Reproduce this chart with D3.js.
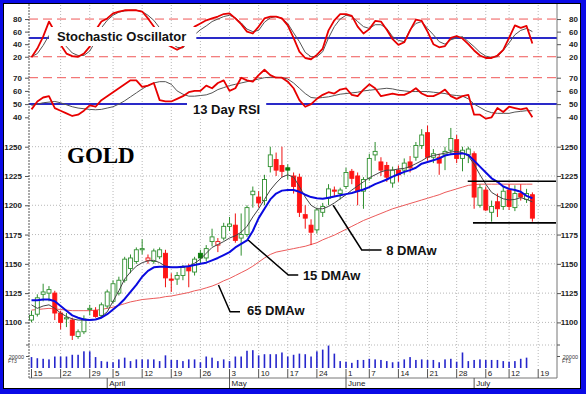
<!DOCTYPE html>
<html>
<head>
<meta charset="utf-8">
<script src="https://cdn.jsdelivr.net/npm/d3@7"></script>
<style>
  body { margin: 0; background: #fff; }
  svg text { font-family: "Liberation Sans", Arial, sans-serif; }
</style>
</head>
<body>
<div class="chart"></div>
<script>
// trading days Mar 15 - Jul 16 2010, index 0..86
var weekTicks = [0, 5, 10, 14, 19, 24, 29, 34, 39, 44, 49, 54, 58, 63, 68, 73, 78, 82, 87];
var weekLabels = ["15", "22", "29", "5", "12", "19", "26", "3", "10", "17", "24", "1", "7", "14", "21", "28", "6", "12", "19"];
var monthStarts = [13, 34, 54, 76];
var monthLabels = ["April", "May", "June", "July"];

var priceTicks = [1100, 1125, 1150, 1175, 1200, 1225, 1250];
var stochTicks = [20, 40, 60, 80];
var rsiTicks = [40, 50, 60, 70];

var open = [1102,1107,1124,1125,1125,1108,1103,1102,1088,1092,
  1111,1110,1106,1114,1118,1125,1136,1146,1152,1162,
  1153,1152,1156,1159,1137,1137,1140,1147,1143,1159,
  1155,1169,1166,1172,1182,1183,1172,1175,1209,1207,
  1204,1233,1239,1234,1232,1225,1224,1192,1183,1179,
  1194,1206,1213,1210,1216,1229,1225,1212,1223,1243,
  1237,1234,1219,1230,1230,1237,1241,1251,1262,1241,
  1241,1243,1247,1256,1240,1243,1244,1200,1213,1194,
  1203,1199,1213,1198,1210,1205,1209];
var high = [1110,1124,1133,1131,1127,1110,1108,1104,1094,1106,
  1115,1113,1117,1128,1136,1139,1156,1158,1164,1171,
  1158,1163,1164,1162,1142,1143,1149,1150,1156,1162,
  1166,1180,1172,1185,1190,1193,1193,1200,1216,1212,
  1226,1250,1245,1250,1235,1228,1227,1200,1188,1198,
  1202,1218,1216,1215,1232,1231,1228,1224,1244,1254,
  1241,1237,1233,1234,1240,1242,1254,1265,1268,1248,
  1244,1250,1266,1260,1250,1250,1246,1218,1216,1204,
  1210,1216,1218,1217,1218,1214,1211];
var low = [1100,1105,1118,1118,1102,1094,1096,1085,1086,1090,
  1106,1104,1104,1112,1116,1123,1134,1142,1150,1158,
  1150,1150,1154,1130,1126,1132,1136,1130,1140,1150,
  1152,1165,1160,1170,1178,1168,1157,1173,1198,1198,
  1200,1228,1225,1224,1222,1210,1190,1180,1166,1176,
  1190,1200,1208,1205,1214,1218,1200,1197,1221,1238,
  1225,1220,1215,1220,1226,1228,1238,1248,1238,1236,
  1226,1230,1244,1236,1229,1236,1197,1198,1195,1186,
  1190,1196,1196,1195,1204,1202,1186];
var close = [1106,1121,1126,1128,1108,1100,1104,1089,1092,1103,
  1112,1105,1115,1126,1133,1136,1154,1155,1162,1163,
  1155,1161,1162,1138,1136,1140,1147,1144,1154,1155,
  1163,1173,1169,1182,1184,1170,1175,1198,1212,1202,
  1222,1243,1230,1229,1230,1216,1194,1189,1177,1196,
  1199,1214,1212,1213,1228,1223,1212,1222,1240,1246,
  1230,1224,1230,1226,1236,1232,1251,1260,1241,1244,
  1236,1246,1257,1240,1247,1248,1207,1215,1196,1199,
  1197,1212,1199,1210,1207,1210,1189];

// moving averages
var dma8 = [1115,1112,1114,1115,1112,1108,1105,1103,1102,1102,
  1102,1102.5,1105,1109,1118,1127,1137,1143,1148,1151,
  1152.5,1153,1151,1148,1147,1147,1147.5,1148,1150.5,1154,
  1159,1164,1166.5,1169,1172,1174,1177,1182,1190,1197,
  1205,1213,1219,1224,1226,1224,1216,1207,1200,1197,
  1197,1199,1202,1205.5,1209,1213,1216.5,1220,1223.5,1226,
  1228.5,1230,1230,1231,1231.5,1233,1235.5,1238,1241,1242.5,
  1243.5,1244.5,1245.5,1246,1245,1242,1235,1226,1218,1211,
  1208,1205.5,1204.5,1205,1206.5,1205,1203];
var dma15 = [1119,1119,1119.5,1119.5,1118,1114,1110,1106,1104,1102.5,
  1102,1102.5,1104,1107,1111,1115,1120,1126,1132,1139,
  1144,1147,1147.5,1147.5,1147,1147,1147.5,1148,1149,1150,
  1151,1153,1155,1157.5,1160,1164,1167,1170,1178,1189,
  1197,1205,1210,1212.5,1213,1213,1211.5,1209,1207,1206,
  1205.5,1206.5,1207.5,1208.5,1209.5,1210.5,1212,1213.5,1215.5,1218,
  1220,1222,1224.5,1226.5,1228.5,1230,1232,1235.5,1237,1238.5,
  1240,1242.5,1243.5,1244,1244.3,1243,1238,1233,1228,1223,
  1220,1216,1214,1213,1211.5,1208,1206];
var dma65 = [1110.5,1111,1111.5,1112,1111.5,1111,1110.5,1110,1110,1110,
  1110,1110.5,1111,1112,1113,1114.5,1116,1117.5,1118.5,1119.5,
  1120,1120.5,1121,1122,1122.5,1123.5,1124.5,1125.5,1127,1128,
  1129.5,1131,1133,1135.5,1137.5,1140,1142.5,1145,1148,1151.5,
  1155,1158,1160,1161,1162,1163,1164,1165,1166.5,1168,
  1170.5,1172.5,1174.5,1177,1179.5,1182,1184.5,1187,1189,1191,
  1193,1195,1197,1198.5,1200,1201.5,1203,1204.5,1206,1207.5,
  1209,1211,1212.5,1214,1215.5,1217,1217.5,1218,1218,1218,
  1218,1218,1218,1218,1218,1218,1218];

// stochastic %K and %D
var stochK = [19,33,52,76,60,39,25,21,20,25,
  36,62,76,81,89,92,94,94,94,92,
  81,68,55,41,36,31,36,55,68,73,
  78,81,84,88,89,81,72,60,57,68,
  81,84,84,81,70,50,28,18,16,23,
  33,62,78,88,88,85,68,57,64,77,
  76,63,48,39,43,62,79,77,60,40,
  35,37,50,53,49,40,30,22,18,18,
  22,31,50,70,66,69,41];
var stochD = [20,25,38,54,60,50,36,26,22,22,
  29,45,66,78,86,91,93,94,94,92,
  86,78,66,52,42,35,34,45,55,63,
  69,76,80,84,86,82,74,64,60,62,
  75,82,84,81,73,58,44,27,20,20,
  28,50,68,80,86,84,76,68,65,71,
  71,65,52,46,44,63,73,76,65,55,
  44,40,47,50,52,44,36,27,21,19,
  20,30,42,55,62,65,60];

// 13 day RSI and its average
var rsi = [46,52,55,56,47,45,43,41,42,45,
  49,48,53,56,59,62,65,68,68,63,
  64,66,53,52,52,54,56,59,60,60,
  64,62,66,68,60,62,70,68,67,72,
  76,72,70,70,67,62,53,48,50,54,
  57,59,58,61,62,57,56,61,65,62,
  56,57,58,57,57,59,62,58,56,56,
  58,61,56,54,56,57,42,42,39,40,
  47,44,48,47,46,47,40];
var rsiAvg = [49,50,51,51.5,52,51,49.5,48,47,46.5,
  46,45.7,46,47,48,50,52.5,55.5,58.5,61.5,
  64,66,67,67,65,60,57.5,56,56,56.5,
  57,58.5,61,62.5,64,65,66,67,68,69,
  70,70.3,70.3,70,69,66,62,58,55,54.5,
  55,55.5,56.5,57.5,58,58.5,59,60,60.5,61,
  61.5,62,61.5,60.5,60,59.5,59.5,59.5,59.5,59,
  58.5,58,57,56.5,56,54,50,47.5,45,43.5,
  43,43,43,44,44.5,45,45];

// volume in thousands (one day behind prices)
var volume = [19,17,16,15,20,20,20,23,23,29,
  29,19,12,11,10,15,18,12,15,15,
  15,15,12,22,14,14,12,15,15,10,
  20,18,12,15,12,20,20,30,31,22,
  24,24,24,27,20,23,25,24,20,29,
  32,39,25,12,11,9,14,14,16,15,
  14,12,10,11,15,19,14,15,14,14,
  10,15,16,11,27,12,14,15,14,14,
  14,12,11,12,16,18];

var svgWidth = 586;
var svgHeight = 394;
var xLeft = 29;
var xRight = 557;

var svg = d3.select(".chart")
  .append("svg")
  .attr("width", svgWidth)
  .attr("height", svgHeight);

// blue frame
svg.append("rect").attr("width", svgWidth).attr("height", svgHeight).attr("fill", "#0a0ae6");
svg.append("rect").attr("x", 3).attr("y", 3).attr("width", 578).attr("height", 386).attr("fill", "#000");
svg.append("rect").attr("x", 4).attr("y", 4).attr("width", 576).attr("height", 384).attr("fill", "#fff");

// scales
var xScale = d3.scaleLinear().domain([0, 87]).range([31.5, 538.2]);
var yStoch = d3.scaleLinear().domain([0, 100]).range([69.3, 6.5]);
var yRsi = d3.scaleLinear().domain([40, 70]).range([117.3, 77.7]);
var yPrice = d3.scaleLinear().domain([1100, 1250]).range([322.4, 146.7]);
var yVol = d3.scaleLinear().domain([0, 40000]).range([368, 345]);

var grid = svg.append("g")
  .attr("stroke", "#b8b8b8")
  .attr("stroke-dasharray", "1,2");

grid.selectAll(".vgrid")
  .data(weekTicks.slice(1))
  .enter().append("line")
    .attr("x1", function(d) { return xScale(d); })
    .attr("x2", function(d) { return xScale(d); })
    .attr("y1", 5)
    .attr("y2", 368);

grid.selectAll(".hgrid")
  .data(priceTicks)
  .enter().append("line")
    .attr("x1", xLeft)
    .attr("x2", xRight)
    .attr("y1", function(d) { return yPrice(d); })
    .attr("y2", function(d) { return yPrice(d); });

grid.append("line")
  .attr("x1", xLeft).attr("x2", xRight)
  .attr("y1", yVol(40000)).attr("y2", yVol(40000));

// reference levels
function refLine(y, color, width, dash) {
  svg.append("line")
    .attr("x1", xLeft).attr("x2", xRight)
    .attr("y1", y).attr("y2", y)
    .attr("stroke", color)
    .attr("stroke-width", width)
    .attr("stroke-dasharray", dash);
}
refLine(yStoch(80), "#f05858", 1, "9,5");
refLine(yStoch(20), "#f05858", 1, "9,5");
refLine(yStoch(50), "#2a2ac8", 2, null);
refLine(yRsi(70), "#f05858", 1, "9,5");
refLine(yRsi(50), "#2a2ac8", 2, null);

// indicator lines
function drawLine(values, yS, color, width) {
  var line = d3.line()
    .x(function(d, i) { return xScale(i); })
    .y(function(d) { return yS(d); });
  svg.append("path")
    .datum(values)
    .attr("d", line)
    .attr("fill", "none")
    .attr("stroke", color)
    .attr("stroke-width", width)
    .attr("stroke-linejoin", "round");
}

drawLine(stochD, yStoch, "#555", 1);
drawLine(stochK, yStoch, "#e80000", 1.8);
drawLine(rsiAvg, yRsi, "#555", 1);
drawLine(rsi, yRsi, "#e80000", 1.8);

drawLine(dma65, yPrice, "#ec5a5a", 1);

// candles
var candles = svg.append("g");
open.forEach(function(o, i) {
  var c = close[i];
  var up = i === 0 || c >= close[i - 1];
  var color = up ? "#2f8f2f" : "#f01010";
  var filled = c < o;
  var cx = xScale(i);
  candles.append("line")
    .attr("x1", cx).attr("x2", cx)
    .attr("y1", yPrice(high[i])).attr("y2", yPrice(low[i]))
    .attr("stroke", color)
    .attr("stroke-width", 1);
  var top = yPrice(Math.max(o, c));
  var h = Math.max(1, Math.abs(yPrice(o) - yPrice(c)));
  candles.append("rect")
    .attr("x", cx - 2)
    .attr("y", top)
    .attr("width", 4)
    .attr("height", h)
    .attr("fill", filled ? (up ? "#0b7a0b" : "#ff1414") : "#fff")
    .attr("stroke", filled ? (up ? "#0b7a0b" : "#ff1414") : color)
    .attr("stroke-width", 0.9);
});

drawLine(dma8, yPrice, "#444", 1);
drawLine(dma15, yPrice, "#0a0ae0", 2);

// trading range
svg.append("line")
  .attr("x1", xScale(74.9)).attr("x2", xRight - 1)
  .attr("y1", yPrice(1220.5)).attr("y2", yPrice(1220.5))
  .attr("stroke", "#000").attr("stroke-width", 1.6);
svg.append("line")
  .attr("x1", xScale(75.8)).attr("x2", xRight - 1)
  .attr("y1", yPrice(1185)).attr("y2", yPrice(1185))
  .attr("stroke", "#000").attr("stroke-width", 1.6);

// volume
svg.selectAll(".vol")
  .data(volume)
  .enter().append("rect")
    .attr("x", function(d, i) { return xScale(i) - 0.8; })
    .attr("y", function(d) { return yVol(d * 1000); })
    .attr("width", 1.6)
    .attr("height", function(d) { return yVol(0) - yVol(d * 1000); })
    .attr("fill", "#2626cc");

// axes
svg.append("line")
  .attr("x1", xLeft).attr("x2", xLeft).attr("y1", 4).attr("y2", 378)
  .attr("stroke", "#555").attr("stroke-dasharray", "2,1");
svg.append("line")
  .attr("x1", xRight).attr("x2", xRight).attr("y1", 4).attr("y2", 378)
  .attr("stroke", "#777");

function sideAxes(scale, ticks) {
  var left = svg.append("g")
    .attr("transform", "translate(" + xLeft + ",0)")
    .call(d3.axisLeft(scale).tickValues(ticks).tickSize(4).tickFormat(d3.format("d")));
  var right = svg.append("g")
    .attr("transform", "translate(" + xRight + ",0)")
    .call(d3.axisRight(scale).tickValues(ticks).tickSize(4).tickFormat(d3.format("d")));
  right.selectAll("text").attr("text-anchor", "end").attr("x", 21);
  [left, right].forEach(function(g) {
    g.select(".domain").remove();
    g.selectAll("line").attr("stroke", "#555");
    g.selectAll("text")
      .style("font-family", "Liberation Sans, Arial, sans-serif")
      .style("font-size", "8px")
      .style("font-weight", "bold")
      .attr("fill", "#222");
  });
}
sideAxes(yStoch, stochTicks);
sideAxes(yRsi, rsiTicks);
sideAxes(yPrice, priceTicks);

// volume scale labels
[[24, "end"], [578, "end"]].forEach(function(p) {
  svg.append("text")
    .attr("x", p[0]).attr("y", yVol(20000) + 2)
    .attr("text-anchor", p[1])
    .style("font-size", "5.5px")
    .attr("fill", "#333")
    .text("20000");
});
svg.append("text").attr("x", 8).attr("y", 363).style("font-size", "5px").attr("fill", "#333").text("FT3");
svg.append("text").attr("x", 562).attr("y", 363).style("font-size", "5px").attr("fill", "#333").text("FT3");
[[xLeft - 3, yVol(20000)], [xLeft - 3, yVol(40000)], [xRight, yVol(20000)], [xRight, yVol(40000)]].forEach(function(p) {
  svg.append("line")
    .attr("x1", p[0]).attr("x2", p[0] + 3)
    .attr("y1", p[1]).attr("y2", p[1])
    .attr("stroke", "#555");
});

// date axis
svg.append("line")
  .attr("x1", xLeft).attr("x2", xRight).attr("y1", 378).attr("y2", 378)
  .attr("stroke", "#777");

svg.selectAll(".wtick")
  .data(weekTicks)
  .enter().append("line")
    .attr("x1", function(d) { return xScale(d); })
    .attr("x2", function(d) { return xScale(d); })
    .attr("y1", 369)
    .attr("y2", 378)
    .attr("stroke", "#555");

svg.selectAll(".wlabel")
  .data(weekTicks)
  .enter().append("text")
    .attr("x", function(d) { return xScale(d) + 2; })
    .attr("y", 376)
    .style("font-size", "8px")
    .attr("fill", "#222")
    .text(function(d, i) { return weekLabels[i]; });

svg.selectAll(".mtick")
  .data(monthStarts)
  .enter().append("line")
    .attr("x1", function(d) { return xScale(d); })
    .attr("x2", function(d) { return xScale(d); })
    .attr("y1", 378)
    .attr("y2", 388)
    .attr("stroke", "#555");

svg.selectAll(".mlabel")
  .data(monthStarts)
  .enter().append("text")
    .attr("x", function(d) { return xScale(d) + 2; })
    .attr("y", 386)
    .style("font-size", "8px")
    .attr("fill", "#222")
    .text(function(d, i) { return monthLabels[i]; });

// panel titles on white boxes
function boxedTitle(x, y, label, padL, padR) {
  var g = svg.append("g");
  var rect = g.append("rect").attr("fill", "#fff");
  var t = g.append("text")
    .attr("x", x).attr("y", y)
    .style("font-size", "13px")
    .style("font-weight", "bold")
    .attr("fill", "#111")
    .text(label);
  var bb = t.node().getBBox();
  rect.attr("x", bb.x - padL).attr("y", bb.y - 2)
    .attr("width", bb.width + padL + padR).attr("height", bb.height + 4);
}
boxedTitle(57, 41, "Stochastic Oscillator", 8, 10);
boxedTitle(193, 114, "13 Day RSI", 6, 6);

svg.append("text")
  .attr("x", 67).attr("y", 163)
  .style("font-family", "Liberation Serif, Times New Roman, serif")
  .style("font-size", "23px")
  .style("font-weight", "bold")
  .attr("fill", "#000")
  .text("GOLD");

// moving average call-outs
function callout(pts, tx, tv, label) {
  svg.append("path")
    .attr("d", d3.line()(pts.map(function(p) { return [xScale(p[0]), yPrice(p[1])]; })))
    .attr("fill", "none")
    .attr("stroke", "#000")
    .attr("stroke-width", 1.5);
  svg.append("text")
    .attr("x", xScale(tx)).attr("y", yPrice(tv))
    .style("font-size", "13px")
    .style("font-weight", "bold")
    .attr("fill", "#111")
    .text(label);
}
callout([[51.8, 1200], [56.7, 1161.8], [60.1, 1161.8]], 60.9, 1157.6, "8 DMAw");
callout([[37.2, 1170.3], [44.1, 1140.4], [45.8, 1140.4]], 46.6, 1136.2, "15 DMAw");
callout([[32.1, 1131.9], [34.1, 1109.1], [35.8, 1109.1]], 37, 1105.9, "65 DMAw");
</script>
</body>
</html>
